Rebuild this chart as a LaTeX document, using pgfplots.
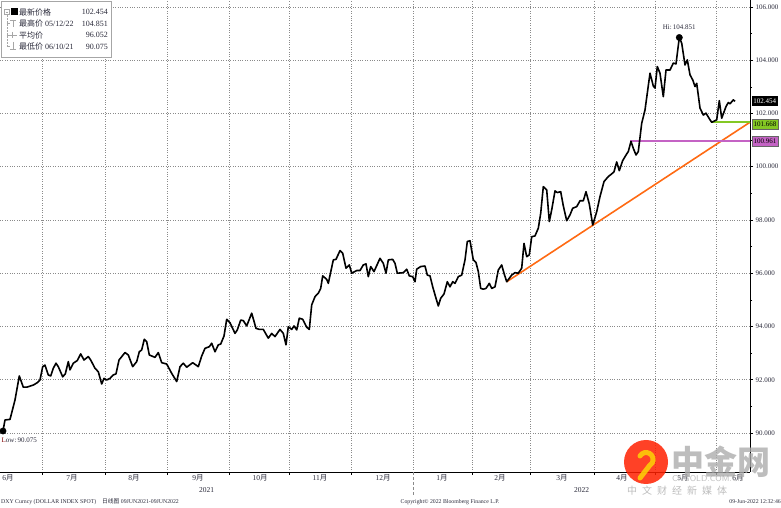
\documentclass[border=0pt]{standalone}
\usepackage{pgfplots}
\usepackage{pgfplotstable}
\pgfplotsset{compat=1.18}
\usepackage{fontspec}
\setmainfont{Liberation Serif}
\newfontfamily\cjk{Noto Sans CJK SC}
\definecolor{trendor}{HTML}{FF6A13}
\definecolor{lowgreen}{HTML}{84C824}
\definecolor{himag}{HTML}{C463C4}
\definecolor{gridc}{HTML}{8A8A8A}
\definecolor{txt}{HTML}{2A2A3A}

\pgfplotstableread{
x y
3 90.075
5 90.49
10 90.51
15 91.24
19.3 92.14
23.3 91.72
26.7 91.72
33.3 91.80
37.3 91.89
40 91.99
42.7 92.49
45 92.55
48.3 92.18
50.7 92.14
53.3 92.43
56 92.62
58.3 92.49
62.7 92.11
65.3 92.22
68.3 92.68
70 92.37
73.3 92.62
77.3 92.72
80.7 92.97
84 92.74
88.3 92.87
90.7 92.74
95 92.43
98.3 92.30
101.7 91.84
104 92.05
106.7 91.99
110 92.05
113.3 92.18
116 92.22
119 92.74
125 93.02
128.3 92.93
132.7 92.49
136.7 92.68
139.3 93.05
141.7 93.12
144.3 93.52
146.7 93.43
149.3 92.93
155 92.84
158.3 93.02
161.7 92.64
166.7 92.59
171.7 92.24
176.7 91.93
180 92.49
183.3 92.62
186.7 92.47
192.7 92.64
198.3 92.49
201.7 92.89
205 93.18
209.3 93.24
211.7 93.37
215 93.05
218.3 93.31
220.7 93.34
224 93.64
226.7 94.27
230 94.14
235 93.74
237.3 93.87
240.7 94.24
243.3 94.22
246.7 94.02
251.7 94.50
256 93.93
259.3 93.89
263.3 93.89
268.3 93.56
271.7 93.74
275 93.62
280 93.89
283.3 93.74
286 93.31
288.3 93.99
291.7 93.89
294 94.02
296.7 93.87
299.3 94.31
302.7 94.27
306.7 93.97
309.3 93.89
311.7 94.81
315 95.12
318.3 95.25
320.7 95.43
322.7 95.90
326.7 95.77
328.3 95.62
333.3 96.50
336 96.52
340 96.85
342.7 96.75
346 96.19
349.3 96.31
351.7 96.00
356.7 96.10
360 96.10
363.3 96.31
366 96.35
368.3 95.87
370.7 96.25
374 96.06
380 96.56
383.3 96.37
386 96.00
388.3 96.50
392.7 96.52
395 96.37
397.3 96.00
403.3 96.02
406.7 96.15
409.3 95.90
412.7 95.87
415 95.68
416.7 96.15
420.7 96.25
425 96.27
427.3 95.93
430 95.90
432.7 95.49
436 95.06
438.3 94.77
440.7 95.06
444 95.22
447.3 95.68
450 95.49
452.7 95.68
455 95.62
458.3 95.87
461.7 95.93
465 96.50
467.3 97.19
470 97.22
473.3 96.50
476 96.40
478.3 96.06
480.7 95.43
483.3 95.40
486 95.43
489.3 95.62
491.7 95.43
495 95.49
498.3 96.12
501.7 96.31
504 96.00
506.7 95.68
511.7 95.93
515 96.02
518.3 96.00
521.7 96.19
524 97.12
526.7 96.62
529.3 96.69
531.7 97.37
535 97.40
538.3 97.69
540.7 98.25
543.3 99.25
546.7 99.13
549.3 97.94
551.7 98.38
555 99.09
557.3 99.03
560.7 99.06
563.3 98.53
566.7 97.97
570 98.19
572.7 98.44
576.7 98.50
580 98.72
583.3 98.72
586 99.06
589.3 98.60
592.7 97.81
596.7 98.31
600 98.88
604 99.44
608.3 99.63
611.7 99.73
614 99.81
616.7 100.18
619.3 99.85
622.7 100.23
626.7 100.48
628.3 100.57
631 100.95
633.3 100.69
636 100.44
638.3 100.57
641.7 101.63
645 102.13
650 103.51
653.3 103.03
655 102.95
657.3 103.76
660 103.51
663.3 102.63
666 103.63
670 103.63
673.3 103.89
676 103.86
679.3 104.851
681.7 104.64
685 103.82
687.3 104.01
690 103.45
692.7 103.26
695 103.01
696.7 103.13
700 102.20
703.3 101.94
706 102.01
710 101.76
711.7 101.668
716.7 101.76
719.3 102.48
721.7 101.82
726 102.26
728.3 102.41
730 102.36
733.3 102.51
735 102.454
}\dxy

\begin{document}
\begin{tikzpicture}
\path[use as bounding box] (0pt,0pt) rectangle (781pt,508pt);
\begin{axis}[
  at={(0pt,36pt)}, anchor=south west,
  scale only axis, width=750pt, height=472pt,
  xmin=0, xmax=750, ymin=88.535, ymax=106.26,
  axis x line=bottom, axis y line=right,
  axis line style={-, black, line width=0.9pt},
  clip=false,
  xtick={42.7,105.3,167.3,229.3,289.3,351.7,413.3,472.7,530,594.3,655,716.7},
  xticklabels={},
  ytick={90,92,...,106},
  minor ytick={91,93,...,105},
  tick align=outside,
  major tick length=3pt, minor tick length=2pt,
  tick style={black, line width=0.6pt},
  grid=major,
  major grid style={dotted, gridc, line width=0.6pt},
  /pgf/number format/assume math mode=true,
  yticklabel={\pgfmathprintnumber[fixed,fixed zerofill,precision=3,1000 sep={}]{\tick}},
  yticklabel style={font=\fontsize{7}{8}\selectfont, text=txt, xshift=-1pt},
  extra x ticks={8,72,134,198,260,320,383,442,500,562,622,683,738},
  extra x tick labels={6{\cjk 月},7{\cjk 月},8{\cjk 月},9{\cjk 月},10{\cjk 月},11{\cjk 月},12{\cjk 月},1{\cjk 月},2{\cjk 月},3{\cjk 月},4{\cjk 月},5{\cjk 月},6{\cjk 月}},
  extra x tick style={grid=none, major tick length=0pt, tick label style={font=\fontsize{7.5}{8}\selectfont, text=txt, yshift=1pt}},
]
\addplot[trendor, line width=1.6pt] coordinates {(506.7,95.68) (750,101.67)};
\addplot[himag, line width=1.6pt] coordinates {(630,100.961) (750,100.961)};
\addplot[lowgreen, line width=1.6pt] coordinates {(711.7,101.668) (750,101.668)};
\addplot[black, line width=1.6pt, line join=round] table[x=x,y=y]{\dxy};
\addplot[only marks, mark=*, mark size=3.2pt, black] coordinates {(3,90.075) (679.3,104.851)};
\node[anchor=south, font=\fontsize{7}{8}\selectfont, text=txt, inner sep=1pt] at (axis cs:679.3,105.1) {Hi:\,104.851};
\node[anchor=north west, font=\fontsize{7}{8}\selectfont, text=txt, inner sep=1pt] at (axis cs:0.5,89.85) {\textcolor{red!50!black}{L}ow:\,90.075};
\node[fill=black, text=white, anchor=west, inner sep=1.6pt, minimum height=10pt, font=\fontsize{7}{8}\selectfont] at (axis cs:751.5,102.454) {102.454};
\node[fill=lowgreen, draw=black!60, text=black, anchor=west, inner sep=1.4pt, minimum height=10pt, font=\fontsize{7}{8}\selectfont] at (axis cs:752,101.60) {101.668};
\node[fill=himag, draw=black!60, text=black, anchor=west, inner sep=1.4pt, minimum height=10pt, font=\fontsize{7}{8}\selectfont] at (axis cs:752,100.961) {100.961};
\end{axis}
% year boundary tick
\draw[gridc, densely dashed, line width=0.6pt] (413.3pt,36pt) -- (413.3pt,13pt);
% year labels
\node[font=\fontsize{7.5}{8}\selectfont, text=txt] at (206.7pt,17.5pt) {2021};
\node[font=\fontsize{7.5}{8}\selectfont, text=txt] at (581.7pt,17.5pt) {2022};
% footer
\node[anchor=west, font=\fontsize{5.8}{6}\selectfont, text=txt, inner sep=0pt] at (1pt,6pt) {DXY Curncy (DOLLAR INDEX SPOT)\quad{\cjk 日线图} 09JUN2021-09JUN2022};
\node[font=\fontsize{5.8}{6}\selectfont, text=txt, inner sep=0pt] at (450pt,6pt) {Copyright\textcopyright{} 2022 Bloomberg Finance L.P.};
\node[anchor=east, font=\fontsize{5.8}{6}\selectfont, text=txt, inner sep=0pt] at (781pt,6pt) {09-Jun-2022 12:32:46};
% legend box
\draw[gray!70, fill=white, line width=0.5pt] (1.5pt,506.5pt) rectangle (111pt,451pt);
\begin{scope}[font=\fontsize{8}{9}\selectfont, text=txt]
\draw[gray!70, line width=0.4pt] (4.5pt,493.5pt) rectangle (9pt,498.5pt);
\draw[gray!70, line width=0.4pt] (5.5pt,496pt) -- (8pt,496pt);
\fill[black] (10.5pt,492.5pt) rectangle (17.5pt,499.5pt);
\draw[gray!70, densely dotted, line width=0.5pt] (6.8pt,493pt) -- (6.8pt,460pt);
\draw[gray!70, line width=0.5pt] (6.8pt,484.5pt) -- (10pt,484.5pt) (10pt,488pt) -- (16pt,488pt) (13pt,488pt) -- (13pt,481pt);
\draw[gray!70, line width=0.5pt] (6.8pt,473pt) -- (17pt,473pt) (12pt,476pt) -- (12pt,470pt);
\draw[gray!70, line width=0.5pt] (6.8pt,461.5pt) -- (10pt,461.5pt) (13pt,466pt) -- (13pt,459pt) (10pt,459pt) -- (16pt,459pt);
\node[anchor=west, inner sep=0pt] at (19pt,496pt) {\cjk 最新价格};
\node[anchor=west, inner sep=0pt] at (19pt,484.5pt) {{\cjk 最高价} 05/12/22};
\node[anchor=west, inner sep=0pt] at (19pt,473pt) {\cjk 平均价};
\node[anchor=west, inner sep=0pt] at (19pt,461.5pt) {{\cjk 最低价} 06/10/21};
\node[anchor=east, inner sep=0pt] at (108pt,496pt) {102.454};
\node[anchor=east, inner sep=0pt] at (108pt,484.5pt) {104.851};
\node[anchor=east, inner sep=0pt] at (108pt,473pt) {96.052};
\node[anchor=east, inner sep=0pt] at (108pt,461.5pt) {90.075};
\end{scope}
% watermark
\begin{scope}[opacity=0.85]
\fill[red!75!orange] (646pt,46pt) circle (22pt);
\draw[yellow!70!orange, line width=5pt, line cap=round] (640pt,52pt) arc (150:-60:7pt) -- (640pt,30pt);
\end{scope}
\begin{scope}[opacity=0.8]
\node[text=gray!65, font=\cjk\bfseries\fontsize{33}{34}\selectfont, inner sep=0pt, anchor=west] at (671pt,46pt) {中金网};
\node[text=gray!65, font=\sffamily\fontsize{8.5}{9}\selectfont, inner sep=0pt, anchor=west] at (672pt,29pt) {CNGOLD.COM.CN};
\node[text=gray!65, font=\cjk\fontsize{10}{11}\selectfont, inner sep=0pt, anchor=west] at (627pt,17pt) {中\,\,\,文\,\,\,财\,\,\,经\,\,\,新\,\,\,媒\,\,\,体};
\end{scope}
\end{tikzpicture}
\end{document}
